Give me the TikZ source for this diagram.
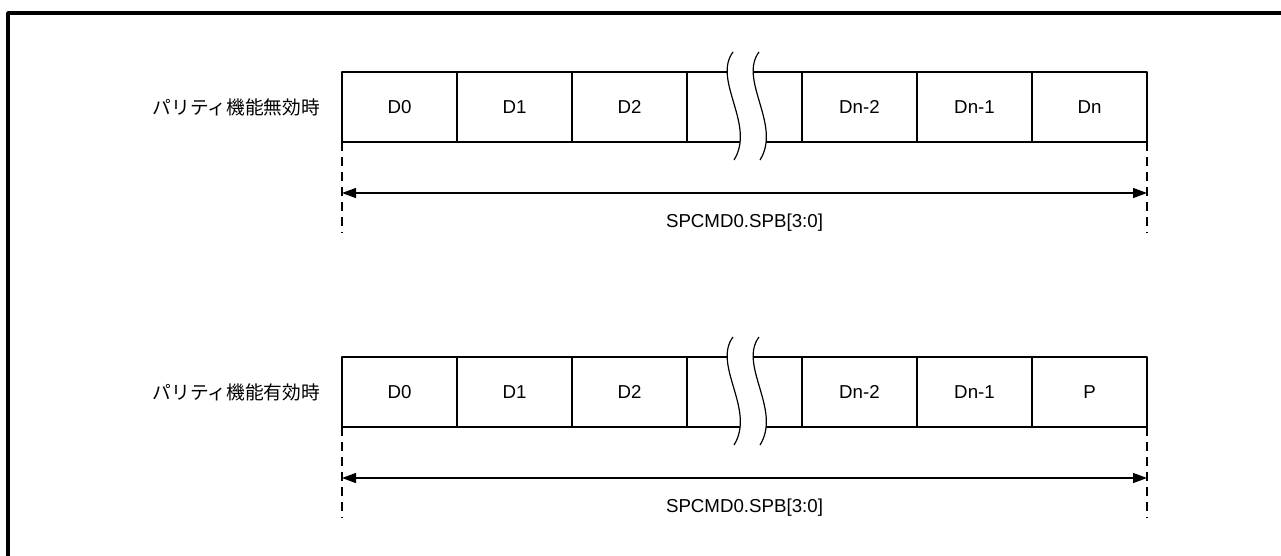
\documentclass[tikz,border=0pt]{standalone}
\usepackage{fontspec}
\setmainfont{Liberation Sans}
\newfontfamily\jpfont{Noto Sans CJK JP}
\usetikzlibrary{arrows.meta,positioning}
\newcommand{\fsz}{\fontsize{18.7}{22}\selectfont}
\begin{document}
\begin{tikzpicture}[x=1pt, y=-1pt, font=\fsz, line join=round, >={Triangle[length=14pt,width=10pt]},
			declare function={w=115;x0=342;},
			cell/.style={draw, line width=2.6pt, minimum width=115pt, minimum height=70pt, inner sep=0pt, outer sep=0pt},
			guide/.style={line width=2.6pt, dash pattern=on 9pt off 6pt},
			wave/.style={line width=1.2pt},
			rowlabel/.style={font=\jpfont\fsz, inner sep=0pt}]
			\useasboundingbox (0,0) rectangle (1281,555);
			\draw[line width=3.5pt] (8,560) -- (8,13) -- (1285,13);
			\foreach \r/\y/\last/\mode in {a/107/Dn/無効, b/392/P/有効}{
				\foreach \t [count=\i from 0] in {D0,D1,D2,{},Dn-2,Dn-1,\last}
					\node[cell] (\r\i) at (x0+w/2+\i*w,\y) {\t};
				% break in the middle cell
				\begin{scope}[shift={(687,\y-35)}]
					\fill[white] (46,-20) .. controls (25,8) and (69,53) .. (47,88) -- (73,88) .. controls (95,53) and (51,8) .. (72,-20) -- cycle;
					\draw[wave] (46,-20) .. controls (25,8) and (69,53) .. (47,88);
					\draw[wave] (72,-20) .. controls (51,8) and (95,53) .. (73,88);
				\end{scope}
				\node[rowlabel, left=22pt of \r0] (\r lbl) {パリティ機能\mode 時};
				\draw[guide] (\r0.south west) -- ++(0,91);
				\draw[guide] (\r6.south east) -- ++(0,91);
				\coordinate (\r L) at ([yshift=-51pt]\r0.south west);
				\coordinate (\r R) at ([yshift=-51pt]\r6.south east);
				\draw[<->, line width=1.3pt] (\r L) -- (\r R) node[pos=0.5, yshift=-30pt] {SPCMD0.SPB[3:0]};
			}
		\end{tikzpicture}
\end{document}
